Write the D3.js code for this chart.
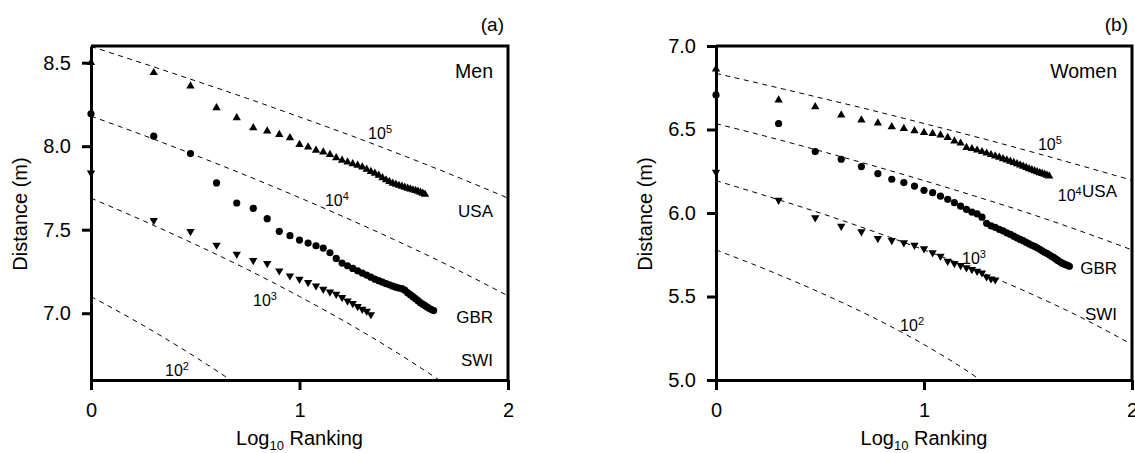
<!DOCTYPE html>
<html><head><meta charset="utf-8">
<script src="https://cdn.jsdelivr.net/npm/d3@7"></script>
<style>
body{margin:0;background:#fff;}
text{font-family:"Liberation Sans",Arial,sans-serif;fill:#000;}
</style>
</head><body>
<svg id="c" width="1135" height="453"></svg>
<script>
// ---------- data ----------
const xTicks = [0, 1, 2];
const menYTicks = [7.0, 7.5, 8.0, 8.5];
const womenYTicks = [5.0, 5.5, 6.0, 6.5, 7.0];

// distances by ranking (rank 1, 2, 3, ...)
const menUSA = [8.50,8.44,8.36,8.23,8.17,8.11,8.09,8.07,8.05,8.01,
  7.995,7.975,7.965,7.95,7.93,7.915,7.905,7.895,7.885,7.875,
  7.862,7.848,7.838,7.826,7.81,7.798,7.788,7.778,7.772,7.765,
  7.76,7.754,7.748,7.743,7.738,7.734,7.73,7.724,7.718,7.712];
const menGBR = [8.194,8.06,7.956,7.78,7.66,7.628,7.566,7.49,7.464,7.438,
  7.42,7.404,7.39,7.362,7.328,7.30,7.284,7.268,7.254,7.24,
  7.228,7.216,7.204,7.195,7.186,7.177,7.17,7.162,7.156,7.151,
  7.147,7.138,7.123,7.111,7.099,7.087,7.075,7.063,7.054,7.045,
  7.036,7.028,7.022,7.016];
const menSWI = [7.84,7.556,7.49,7.408,7.354,7.316,7.298,7.254,7.224,7.204,
  7.184,7.164,7.144,7.128,7.114,7.094,7.074,7.058,7.04,7.024,
  7.012,6.992];

const womenUSA = [6.861,6.676,6.636,6.586,6.557,6.538,6.516,6.506,6.492,6.482,
  6.476,6.466,6.452,6.431,6.418,6.392,6.385,6.376,6.367,6.358,
  6.349,6.341,6.334,6.325,6.317,6.31,6.302,6.295,6.287,6.28,
  6.272,6.265,6.259,6.253,6.247,6.241,6.236,6.231,6.226,6.221];
const womenGBR = [6.707,6.536,6.368,6.322,6.278,6.236,6.202,6.182,6.161,6.136,
  6.122,6.101,6.082,6.062,6.041,6.022,6.005,5.995,5.975,5.938,
  5.923,5.914,5.902,5.893,5.881,5.872,5.861,5.851,5.842,5.834,
  5.824,5.815,5.807,5.8,5.792,5.783,5.774,5.765,5.758,5.75,
  5.741,5.734,5.725,5.716,5.708,5.701,5.695,5.69,5.686,5.681];
const womenSWI = [6.245,6.077,5.972,5.921,5.888,5.848,5.836,5.822,5.807,5.786,
  5.762,5.742,5.712,5.698,5.686,5.672,5.662,5.652,5.642,5.618,
  5.606,5.600];

// dashed reference curves (population size 10^2..10^5), read at these log10 rankings
const curveX = [0,0.25,0.5,0.75,1.0,1.25,1.5,1.75,2.0];
const menCurve5 = [8.597,8.496,8.392,8.286,8.175,8.062,7.943,7.819,7.689];
const menCurve4 = [8.18,8.066,7.946,7.822,7.692,7.556,7.414,7.264,7.104];
const menCurve3 = [7.689,7.554,7.412,7.262,7.100,6.927,6.738,6.530,6.293];
const menCurve2 = [7.100,6.927,6.738,6.530,6.293];
const womenCurve5 = [6.836,6.764,6.690,6.615,6.536,6.456,6.372,6.285,6.196];
const womenCurve4 = [6.535,6.456,6.372,6.285,6.194,6.099,6.000,5.893,5.779];
const womenCurve3 = [6.194,6.099,6.000,5.893,5.779,5.657,5.524,5.378,5.212];
const womenCurve2 = [5.779,5.657,5.524,5.378,5.212,5.018,4.776,4.431];
const curveExps = ["5","4","3","2"];

// ---------- drawing ----------
const svg = d3.select("#c");

function panel(cfg) {
  const g = svg.append("g");
  const x = d3.scaleLinear().domain([0, 2]).range([cfg.left, cfg.right]);
  const y = d3.scaleLinear().domain(cfg.yDomain).range([380, 46]);

  const clipId = "clip" + cfg.id;
  svg.append("clipPath").attr("id", clipId).append("rect")
    .attr("x", cfg.left).attr("y", 46).attr("width", cfg.right - cfg.left).attr("height", 334);

  // dashed curves
  const line = d3.line().x(d => x(d[0])).y(d => y(d[1])).curve(d3.curveMonotoneX);
  cfg.curves.forEach((c, i) => {
    g.append("path").datum(c.map((v, j) => [curveX[j], v]))
      .attr("clip-path", `url(#${clipId})`)
      .attr("d", line).attr("fill", "none").attr("stroke", "#000")
      .attr("stroke-width", 1).attr("stroke-dasharray", "5,4.5");
  });

  // curve labels
  cfg.curveLabels.forEach((p, i) => {
    const t = g.append("text").attr("x", x(p[0])).attr("y", y(p[1])).style("font-size", "16px");
    t.append("tspan").text("10");
    t.append("tspan").attr("dy", -6).style("font-size", "11px").text(curveExps[i]);
  });

  // series
  const tri = d3.symbol().type(d3.symbolTriangle).size(30);
  const pts = arr => arr.map((v, i) => [Math.log10(i + 1), v]);
  g.append("g").selectAll("path").data(pts(cfg.usa)).join("path")
    .attr("d", tri).attr("transform", d => `translate(${x(d[0])},${y(d[1])})`).attr("fill", "#000");
  g.append("g").selectAll("circle").data(pts(cfg.gbr)).join("circle")
    .attr("cx", d => x(d[0])).attr("cy", d => y(d[1])).attr("r", 3.6).attr("fill", "#000");
  g.append("g").selectAll("path").data(pts(cfg.swi)).join("path")
    .attr("d", tri).attr("transform", d => `translate(${x(d[0])},${y(d[1])}) rotate(180)`).attr("fill", "#000");

  // axes
  const ax = g.append("g").attr("transform", "translate(0,380)")
    .call(d3.axisBottom(x).tickValues(xTicks).tickFormat(d3.format("d")).tickSize(10).tickSizeOuter(0).tickPadding(13));
  const ay = g.append("g").attr("transform", `translate(${cfg.left},0)`)
    .call(d3.axisLeft(y).tickValues(cfg.yTicks).tickFormat(d3.format(".1f")).tickSize(9).tickSizeOuter(0).tickPadding(11));
  [ax, ay].forEach(a => {
    a.selectAll("path,line").attr("stroke", "#000").attr("stroke-width", 3);
    a.selectAll("text").style("font-size", "20px").attr("fill", "#000");
  });
  // frame
  g.append("path").attr("d", `M${cfg.left},46H${cfg.right}V380`).attr("fill", "none")
    .attr("stroke", "#000").attr("stroke-width", 3);

  // axis titles
  const xt = g.append("text").attr("x", (cfg.left + cfg.right) / 2).attr("y", 445)
    .attr("text-anchor", "middle").style("font-size", "20px");
  xt.append("tspan").text("Log");
  xt.append("tspan").attr("dy", 5).style("font-size", "13px").text("10");
  xt.append("tspan").attr("dy", -5).text(" Ranking");
  g.append("text").attr("transform", `translate(${cfg.left - 64},${214}) rotate(-90)`)
    .attr("text-anchor", "middle").style("font-size", "20px").text("Distance (m)");

  // labels
  g.append("text").attr("x", cfg.right - 4).attr("y", 31).attr("text-anchor", "end")
    .style("font-size", "19px").text(cfg.tag);
  cfg.names.forEach(n => {
    g.append("text").attr("x", cfg.right - 15).attr("y", y(n[1])).attr("text-anchor", "end")
      .style("font-size", n[2] + "px").text(n[0]);
  });
}

panel({
  id: "a", left: 91, right: 508, yDomain: [6.6, 8.6], yTicks: menYTicks,
  usa: menUSA, gbr: menGBR, swi: menSWI,
  curves: [menCurve5, menCurve4, menCurve3, menCurve2],
  curveLabels: [[1.329, 8.044], [1.122, 7.642], [0.777, 7.042], [0.355, 6.622]],
  tag: "(a)",
  names: [["Men", 8.41, 19.5], ["USA", 7.575, 17], ["GBR", 6.94, 17], ["SWI", 6.682, 17]]
});
panel({
  id: "b", left: 716, right: 1132, yDomain: [5.0, 7.0], yTicks: womenYTicks,
  usa: womenUSA, gbr: womenGBR, swi: womenSWI,
  curves: [womenCurve5, womenCurve4, womenCurve3, womenCurve2],
  curveLabels: [[1.548, 6.376], [1.643, 6.074], [1.183, 5.692], [0.885, 5.296]],
  tag: "(b)",
  names: [["Women", 6.81, 19.5], ["USA", 6.094, 17], ["GBR", 5.632, 17], ["SWI", 5.362, 17]]
});
</script>
</body></html>
